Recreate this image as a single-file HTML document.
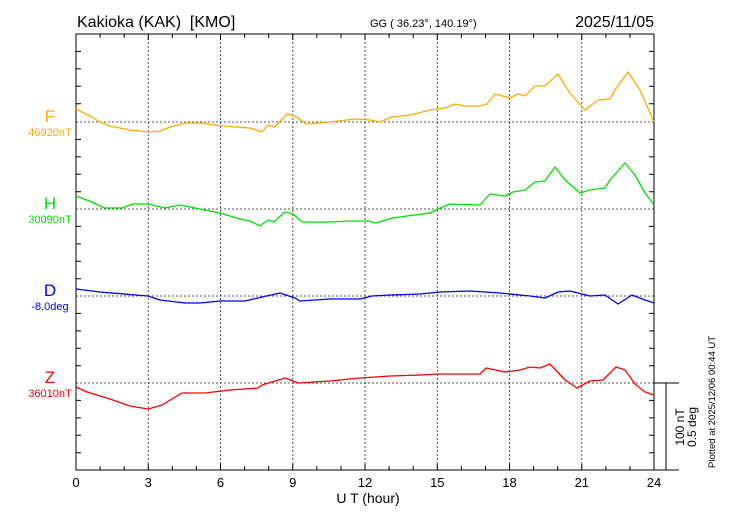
<!DOCTYPE html>
<html><head><meta charset="utf-8"><style>
body{margin:0;background:#fff;}
svg{display:block;font-family:"Liberation Sans",sans-serif;}
</style></head><body>
<svg width="730" height="520" viewBox="0 0 730 520" xmlns="http://www.w3.org/2000/svg">
<rect width="730" height="520" fill="#fff"/>
<text x="77" y="27" font-size="16">Kakioka (KAK)&#160; [KMO]</text>
<text x="370" y="27" font-size="11">GG ( 36.23°, 140.19°)</text>
<text x="654" y="27" font-size="16" text-anchor="end">2025/11/05</text>
<g stroke="#555" stroke-width="1" stroke-dasharray="2,2" fill="none">
<line x1="148.3" y1="34" x2="148.3" y2="470"/><line x1="220.5" y1="34" x2="220.5" y2="470"/>
<line x1="292.8" y1="34" x2="292.8" y2="470"/><line x1="365" y1="34" x2="365" y2="470"/>
<line x1="437.3" y1="34" x2="437.3" y2="470"/><line x1="509.5" y1="34" x2="509.5" y2="470"/>
<line x1="581.8" y1="34" x2="581.8" y2="470"/>
<line x1="76" y1="122" x2="654" y2="122"/><line x1="76" y1="209" x2="654" y2="209"/>
<line x1="76" y1="296" x2="654" y2="296"/><line x1="76" y1="383" x2="654" y2="383"/>
</g>
<g stroke="#000" stroke-width="1" fill="none">
<rect x="76" y="34" width="578" height="436"/>
<line x1="654" y1="383" x2="679" y2="383"/>
<line x1="654" y1="470" x2="679" y2="470"/>
<line x1="666" y1="383" x2="666" y2="470"/>
<path d="M76,51.4h5M76,68.9h5M76,86.3h5M76,103.8h5M76,139.4h5M76,156.9h5M76,174.3h5M76,191.8h5M76,226.4h5M76,243.9h5M76,261.3h5M76,278.8h5M76,313.4h5M76,330.9h5M76,348.3h5M76,365.8h5M76,400.4h5M76,417.9h5M76,435.3h5M76,452.8h5
M654,51.4h-5M654,68.9h-5M654,86.3h-5M654,103.8h-5M654,139.4h-5M654,156.9h-5M654,174.3h-5M654,191.8h-5M654,226.4h-5M654,243.9h-5M654,261.3h-5M654,278.8h-5M654,313.4h-5M654,330.9h-5M654,348.3h-5M654,365.8h-5M654,400.4h-5M654,417.9h-5M654,435.3h-5M654,452.8h-5
M100.1,34v4M124.2,34v4M172.4,34v4M196.4,34v4M244.6,34v4M268.7,34v4M316.9,34v4M341,34v4M389.1,34v4M413.2,34v4M461.4,34v4M485.5,34v4M533.6,34v4M557.7,34v4M605.9,34v4M630,34v4
M100.1,470v-4M124.2,470v-4M172.4,470v-4M196.4,470v-4M244.6,470v-4M268.7,470v-4M316.9,470v-4M341,470v-4M389.1,470v-4M413.2,470v-4M461.4,470v-4M485.5,470v-4M533.6,470v-4M557.7,470v-4M605.9,470v-4M630,470v-4
M148.3,34v6M220.5,34v6M292.8,34v6M365,34v6M437.3,34v6M509.5,34v6M581.8,34v6M148.3,470v-6M220.5,470v-6M292.8,470v-6M365,470v-6M437.3,470v-6M509.5,470v-6M581.8,470v-6"/>
</g>
<g font-size="13" text-anchor="middle">
<text x="76" y="487">0</text><text x="148.3" y="487">3</text><text x="220.5" y="487">6</text><text x="292.8" y="487">9</text><text x="365" y="487">12</text><text x="437.3" y="487">15</text><text x="509.5" y="487">18</text><text x="581.8" y="487">21</text><text x="654" y="487">24</text>
<text x="368" y="503" font-size="14">U T (hour)</text>
</g>
<text transform="translate(684,427) rotate(-90)" font-size="12" text-anchor="middle">100 nT</text>
<text transform="translate(696,427) rotate(-90)" font-size="12" text-anchor="middle">0.5 deg</text>
<text transform="translate(715,468) rotate(-90)" font-size="9.5">Plotted at 2025/12/06 00:44 UT</text>
<g text-anchor="middle">
<text x="50" y="122" font-size="17" fill="#FFAA00">F</text><text x="50" y="136" font-size="11" fill="#FFAA00">46920nT</text>
<text x="50" y="209" font-size="17" fill="#00E000">H</text><text x="50" y="223" font-size="11" fill="#00E000">30090nT</text>
<text x="50" y="296" font-size="17" fill="#0000FF">D</text><text x="50" y="310" font-size="11" fill="#0000FF">-8.0deg</text>
<text x="50" y="383" font-size="17" fill="#FF0000">Z</text><text x="50" y="397" font-size="11" fill="#FF0000">36010nT</text>
</g>
<g fill="none" stroke-width="1.3" stroke-linejoin="round">
<polyline stroke="#FFAA00" points="76,109 92,117 100,122 110,126 130,130 150,132 160,131 170,127 185,123 200,123 215,125 235,127 250,128 262,132 268,125 275,127 287,114 297,117 306,124 330,122 355,119 370,120 380,122 392,117 410,115 430,110 445,108 455,104 465,106 480,106 487,104 495,94 510,98 518,94 525,96 535,86 545,86 558,74 570,93 585,110 598,100 610,99 615,90 628,72 640,90 654,122"/>
<polyline stroke="#00E000" points="76,196 92,202 104,208 122,208 133,204 148,204 165,208 180,205 200,209 220,213 240,219 250,221 260,226 268,220 274,222 285,212 293,214 302,222 330,222 350,221 368,221 376,223 392,218 430,213 438,209 450,204 480,205 490,194 505,196 513,192 525,190 535,182 545,181 555,167 565,180 580,193 590,190 605,188 610,180 625,163 635,175 645,193 654,205"/>
<polyline stroke="#0000FF" points="76,289 100,292 148,296 160,300 185,303 200,303 220,301 245,301 262,297 280,293 295,298 300,301 330,299 360,299 372,296 390,295 420,294 440,292 470,291 500,293 530,296 545,298 558,292 570,291 590,296 605,295 618,304 632,295 645,300 654,303"/>
<polyline stroke="#FF0000" points="76,387 87,392 110,399 130,406 148,409 162,405 182,393 205,393 230,390 258,388 262,385 285,378 298,383 330,381 360,378 390,376 420,375 440,374 480,374 486,368 505,372 520,370 530,367 540,368 550,364 565,380 577,388 590,381 603,380 606,377 616,367 625,370 635,384 645,392 654,395"/>
</g>
</svg>
</body></html>
